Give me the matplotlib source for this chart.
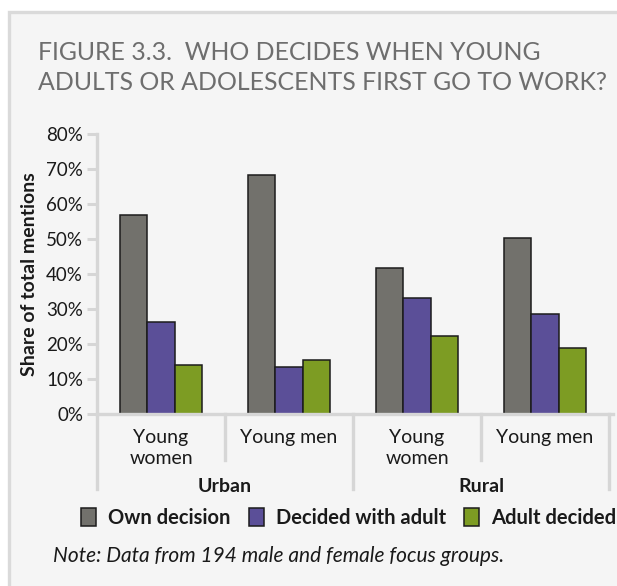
import matplotlib.pyplot as plt
from matplotlib.patches import Rectangle
from matplotlib.lines import Line2D
import matplotlib.transforms as mtransforms

plt.rcParams['font.family'] = ['Lato', 'DejaVu Sans']

# data
groups = ['Urban', 'Rural']
subgroups = ['Young\nwomen', 'Young men', 'Young\nwomen', 'Young men']
series = ['Own decision', 'Decided with adult', 'Adult decided']
own_decision = [0.57, 0.683, 0.418, 0.503]
with_adult = [0.262, 0.135, 0.332, 0.287]
adult_decided = [0.141, 0.154, 0.223, 0.188]
yticks = [0, 0.1, 0.2, 0.3, 0.4, 0.5, 0.6, 0.7, 0.8]

colors = ['#72716c', '#5b4f98', '#7d9c23']
edge = '#1c1c1c'
axis_gray = '#d6d6d6'
text_color = '#1a1a1a'

W, H = 617, 586
fig = plt.figure(figsize=(W / 100, H / 100), dpi=100)
fig.patch.set_facecolor('white')

def fx(px):
    return px / W

def fy(py):
    return 1 - py / H

# panel background with light border on top/left
fig.patches.append(Rectangle((fx(8.5), -0.01), 1, fy(11.5) + 0.01, transform=fig.transFigure,
                             facecolor='#f5f5f5', edgecolor='#dadada', linewidth=2.4,
                             zorder=-5))

# title
title_kw = dict(fontsize=17.9, color='#6e6e6e', va='center', ha='left')
fig.text(fx(38), fy(52), 'FIGURE 3.3.  WHO DECIDES WHEN YOUNG', **title_kw)
fig.text(fx(38), fy(83), 'ADULTS OR ADOLESCENTS FIRST GO TO WORK?', **title_kw)

# axes: x from -0.5 (px 97) with 128 px per category
ax_left, ax_bottom_px, ax_top_px = 97, 414, 134
unit = 128
xmax = 3.53
ax = fig.add_axes([fx(ax_left), fy(ax_bottom_px), (xmax + 0.5) * unit / W,
                   (ax_bottom_px - ax_top_px) / H])
ax.set_facecolor('none')

x = list(range(len(subgroups)))
bw = 0.215
for i, (vals, c) in enumerate(zip([own_decision, with_adult, adult_decided], colors)):
    ax.bar([xi + (i - 1) * bw for xi in x], vals, width=bw, color=c,
           edgecolor=edge, linewidth=1.1, label=series[i], zorder=3)

ax.set_xlim(-0.5, xmax)
ax.set_ylim(0, 0.8)
ax.set_yticks(yticks)
ax.set_yticklabels([f'{int(round(v * 100))}%' for v in yticks], fontsize=13.5, color=text_color)
ax.tick_params(axis='y', length=7, width=2.2, color=axis_gray, pad=3)
ax.set_xticks([])
for s in ['top', 'right']:
    ax.spines[s].set_visible(False)
ax.spines['left'].set_color(axis_gray)
ax.spines['left'].set_linewidth(2.4)
ax.spines['bottom'].set_color(axis_gray)
ax.spines['bottom'].set_linewidth(2.4)
ax.spines['bottom'].set_zorder(4)

ax.set_ylabel('Share of total mentions', fontsize=14, fontweight='bold',
              color=text_color, labelpad=6)

# category dividers below the axis
ax_h = ax_bottom_px - ax_top_px
tr = mtransforms.blended_transform_factory(ax.transData, ax.transAxes)
for xd in [0.5, 2.5]:
    ax.add_line(Line2D([xd, xd], [0, -46 / ax_h], transform=tr, color=axis_gray,
                       linewidth=2.4, clip_on=False))
for xd in [-0.5, 1.5, 3.5]:
    ax.add_line(Line2D([xd, xd], [0, -75 / ax_h], transform=tr, color=axis_gray,
                       linewidth=2.4, clip_on=False))

# sub-category labels
for xi, lab in zip(x, subgroups):
    ax.text(xi, -15 / ax_h, lab, transform=tr, ha='center', va='top',
            fontsize=14, color=text_color, linespacing=1.3)

# group labels
for gi, g in enumerate(groups):
    ax.text(gi * 2 + 0.5, -73 / ax_h, g, transform=tr, ha='center', va='center',
            fontsize=14, fontweight='bold', color=text_color)

# legend
leg = fig.legend(loc='center left', bbox_to_anchor=(fx(73), fy(518)), ncol=3,
                 frameon=False, fontsize=14.5, handlelength=0.75, handleheight=0.95,
                 handletextpad=0.6, columnspacing=0.9, borderaxespad=0)
for t in leg.get_texts():
    t.set_fontweight('bold')
    t.set_color(text_color)

# note
fig.text(fx(53), fy(556), 'Note: Data from 194 male and female focus groups.',
         fontsize=15, fontstyle='italic', color=text_color, va='center', ha='left')

fig.savefig('out.png', dpi=100)
